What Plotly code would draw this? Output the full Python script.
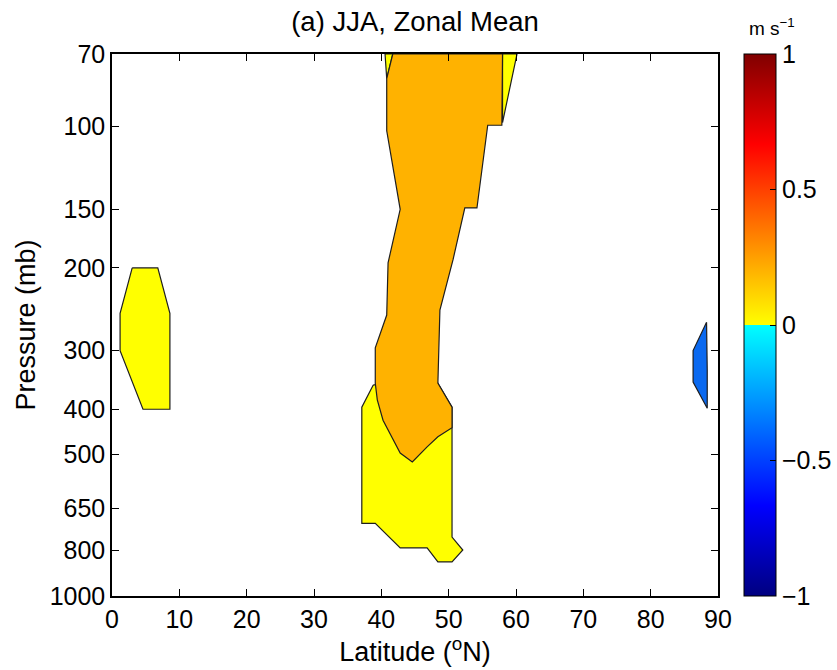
import plotly.graph_objects as go

# ---- data (latitude °N, pressure mb) ----
left_yellow_lat = [3.0, 6.8, 8.6, 8.6, 4.6, 1.2, 1.2, 3.0]
left_yellow_p = [200, 200, 250, 400, 400, 300, 250, 200]

blue_lat = [88.3, 86.3, 86.3, 88.4, 88.4, 88.3]
blue_p = [261, 300, 350, 398, 330, 261]

low_yellow_lat = [38.8, 37.1, 37.1, 39.1, 42.8, 46.8, 48.4, 50.5, 52.1, 50.5, 50.5, 48.4, 38.8]
low_yellow_p = [355, 396, 700, 700, 790, 790, 846, 846, 798, 749, 396, 352, 355]

top_left_yellow_lat = [40.55, 41.7, 40.8, 40.55]
top_left_yellow_p = [70, 70, 79, 70]

top_right_yellow_lat = [58.0, 60.15, 58.0, 58.0]
top_right_yellow_p = [70, 70, 98, 70]

orange_lat = [41.7, 40.8, 40.8, 42.8, 41.0, 40.8, 39.1, 39.1, 39.4, 40.25, 42.8, 44.6,
              46.8, 48.4, 50.5, 50.5, 48.4, 48.7, 50.65, 52.4, 54.2, 55.8, 57.9, 58.0, 41.7]
orange_p = [70, 79, 102, 150, 195, 252, 296, 352, 382, 422, 496, 518,
            481, 458, 438, 396, 352, 246, 192, 149, 149, 99.3, 99.3, 70, 70]

pressure_ticks = [70, 100, 150, 200, 300, 400, 500, 650, 800, 1000]
lat_ticks = [0, 10, 20, 30, 40, 50, 60, 70, 80, 90]
cbar_ticks = [-1, -0.5, 0, 0.5, 1]
cbar_labels = ["\u22121", "\u22120.5", "0", "0.5", "1"]

YELLOW = "rgb(255,255,0)"
ORANGE = "rgb(255,178,0)"
BLUE = "rgb(10,105,240)"

colorscale = [[0.0, "rgb(0,0,128)"], [0.1667, "rgb(0,0,255)"], [0.5, "rgb(0,255,255)"],
              [0.5, "rgb(255,255,0)"], [0.8333, "rgb(255,0,0)"], [1.0, "rgb(128,0,0)"]]

FONT = "Liberation Sans, Arial, sans-serif"
CB_X = (744 - 112) / 606

fig = go.Figure()

regions = [
    (left_yellow_lat, left_yellow_p, YELLOW),
    (blue_lat, blue_p, BLUE),
    (low_yellow_lat, low_yellow_p, YELLOW),
    (top_left_yellow_lat, top_left_yellow_p, YELLOW),
    (top_right_yellow_lat, top_right_yellow_p, YELLOW),
    (orange_lat, orange_p, ORANGE),
]
for lat, p, col in regions:
    fig.add_trace(go.Scatter(x=lat, y=p, mode="lines", fill="toself", fillcolor=col,
                             line=dict(color="rgb(30,30,30)", width=1.2),
                             hoverinfo="skip", showlegend=False))

# colorbar carrier
fig.add_trace(go.Scatter(
    x=[None], y=[None], mode="markers", showlegend=False, hoverinfo="skip",
    marker=dict(color=[0], cmin=-1, cmax=1, colorscale=colorscale, showscale=True,
                colorbar=dict(x=CB_X, xanchor="left", xpad=0, ypad=0,
                              y=0.5, yanchor="middle", len=1, lenmode="fraction",
                              thickness=32, thicknessmode="pixels",
                              outlinewidth=1, outlinecolor="black",
                              tickmode="array", tickvals=cbar_ticks, ticktext=cbar_labels,
                              ticks="inside", ticklen=6, tickcolor="black",
                              tickfont=dict(family=FONT, size=25, color="black")))))

# left-side ticks on colorbar
for v in cbar_ticks[1:-1]:
    yy = (v + 1) / 2
    fig.add_shape(type="line", xref="paper", yref="paper",
                  x0=CB_X, x1=CB_X + 6 / 606, y0=yy, y1=yy,
                  line=dict(color="black", width=1))

fig.update_layout(
    width=837, height=670,
    margin=dict(l=112, r=119, t=54, b=74, autoexpand=False),
    paper_bgcolor="white", plot_bgcolor="white",
    font=dict(family=FONT, color="black"),
    title=dict(text="(a) JJA, Zonal Mean", x=415 / 837, xanchor="center",
               y=1 - 21 / 670, yanchor="middle", font=dict(size=27.5, family=FONT, color="black")),
    xaxis=dict(range=[0, 90], tickmode="array", tickvals=lat_ticks,
               ticks="inside", ticklen=7, tickcolor="black", tickwidth=1,
               showline=True, linecolor="black", linewidth=1.5, mirror="allticks",
               showgrid=False, zeroline=False,
               tickfont=dict(size=25, family=FONT, color="black"),
               title=dict(text="Latitude (<sup>o</sup>N)", standoff=6,
                          font=dict(size=27, family=FONT, color="black"))),
    yaxis=dict(type="log", range=[3, 1.8450980], tickmode="array", tickvals=pressure_ticks,
               ticktext=[str(t) for t in pressure_ticks],
               ticks="inside", ticklen=7, tickcolor="black", tickwidth=1,
               showline=True, linecolor="black", linewidth=1.5, mirror="allticks",
               showgrid=False, zeroline=False,
               tickfont=dict(size=25, family=FONT, color="black"),
               title=dict(text="Pressure (mb)", standoff=6,
                          font=dict(size=27, family=FONT, color="black"))),
    annotations=[dict(text="m s<sup>\u22121</sup>", xref="paper", yref="paper",
                      x=(772 - 112) / 606, y=1 + 27 / 542, xanchor="center", yanchor="middle",
                      showarrow=False, font=dict(size=19, family=FONT, color="black"))],
)

fig.write_html("out.html")
